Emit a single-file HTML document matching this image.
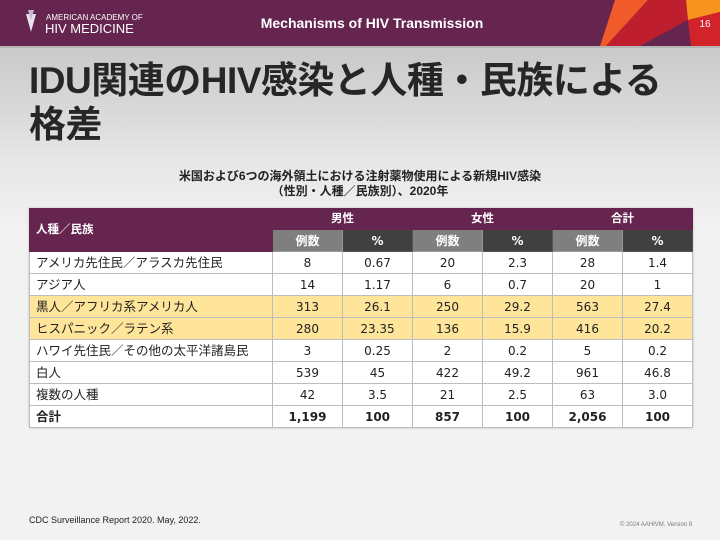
<!DOCTYPE html>
<html><head><meta charset="utf-8"><style>
*{margin:0;padding:0;box-sizing:border-box}
body{width:720px;height:540px;overflow:hidden;position:relative;font-family:"Liberation Sans","Noto Sans CJK JP",sans-serif;background:linear-gradient(#c9c9c9 48px,#e6e6e6 160px,#f2f2f2 230px,#f2f2f2)}
.hdr{position:absolute;left:0;top:0;width:720px;height:46px;background:#65254f}
.line{position:absolute;left:0;top:46px;width:720px;height:2px;background:#b5b5b5}
.t{position:absolute;left:29px;top:59px;font-size:37px;font-weight:bold;color:#262626;line-height:44px;letter-spacing:-0.5px}
.sub{position:absolute;left:0;width:720px;text-align:center;top:169px;font-size:12px;font-weight:bold;color:#222;line-height:15px}
table{position:absolute;left:29px;top:208px;border-collapse:collapse;table-layout:fixed;width:663px;font-size:12.5px;color:#222;box-shadow:0 0 2px #bbb}
td{border:1px solid #bdbdbd;height:22px;text-align:center;padding:0;line-height:18px;font-family:"DejaVu Sans","Noto Sans CJK JP",sans-serif;font-size:12px}
td.l{text-align:left;padding-left:6px;font-family:"Liberation Sans","Noto Sans CJK JP",sans-serif;font-size:12.5px}
.h td{background:#65254f;color:#fff;font-weight:bold;border-color:#65254f;height:21px;font-size:11.5px;font-family:"Liberation Sans","Noto Sans CJK JP",sans-serif}
.h2 td.g{background:#7f7f7f;color:#fff;font-weight:bold;height:22px;border-color:#999}
.h2 td.d{background:#404040;color:#fff;font-weight:bold;border-color:#555}
tr.y td{background:#ffe599}
tr.w td{background:#fff}
tr.b td{font-weight:bold}
</style></head><body>
<div class="hdr"></div>
<svg style="position:absolute;left:0;top:0" width="720" height="46">
<polygon points="615,0 648,0 606,46 600,46" fill="#f15a29"/>
<polygon points="648,0 686,0 688,20 640,46 606,46" fill="#be1e2d"/>
<polygon points="640,46 688,20 691,46" fill="#65254f"/>
<polygon points="686,0 720,0 720,12 688,20" fill="#f7941d"/>
<polygon points="688,20 720,12 720,46 691,46" fill="#d2232a"/>
<polygon points="26,14 36,14 31,32" fill="#e8e0ea"/>
<polygon points="28,10 34,10 31,20" fill="#c9b8cc"/>
<text x="46" y="20" font-family="Liberation Sans" font-size="8" fill="#fff">AMERICAN ACADEMY OF</text>
<text x="45" y="33" font-family="Liberation Sans" font-size="13" fill="#fff">HIV MEDICINE</text>
<text x="372" y="28" text-anchor="middle" font-family="Liberation Sans" font-size="14" font-weight="bold" fill="#fff">Mechanisms of HIV Transmission</text>
<text x="705" y="27" text-anchor="middle" font-family="Liberation Sans" font-size="10" fill="#fff">16</text>
</svg>
<div class="line"></div>
<div class="t">IDU関連のHIV感染と人種・民族による<br>格差</div>
<div class="sub">米国および6つの海外領土における注射薬物使用による新規HIV感染<br>（性別・人種／民族別）、2020年</div>
<table>
<colgroup><col style="width:243px"><col style="width:70px"><col style="width:70px"><col style="width:70px"><col style="width:70px"><col style="width:70px"><col style="width:70px"></colgroup>
<tr class="h"><td class="l" rowspan="2">人種／民族</td><td colspan="2">男性</td><td colspan="2">女性</td><td colspan="2">合計</td></tr>
<tr class="h2"><td class="g">例数</td><td class="d">%</td><td class="g">例数</td><td class="d">%</td><td class="g">例数</td><td class="d">%</td></tr>
<tr class="w"><td class="l">アメリカ先住民／アラスカ先住民</td><td>8</td><td>0.67</td><td>20</td><td>2.3</td><td>28</td><td>1.4</td></tr>
<tr class="w"><td class="l">アジア人</td><td>14</td><td>1.17</td><td>6</td><td>0.7</td><td>20</td><td>1</td></tr>
<tr class="y"><td class="l">黒人／アフリカ系アメリカ人</td><td>313</td><td>26.1</td><td>250</td><td>29.2</td><td>563</td><td>27.4</td></tr>
<tr class="y"><td class="l">ヒスパニック／ラテン系</td><td>280</td><td>23.35</td><td>136</td><td>15.9</td><td>416</td><td>20.2</td></tr>
<tr class="w"><td class="l">ハワイ先住民／その他の太平洋諸島民</td><td>3</td><td>0.25</td><td>2</td><td>0.2</td><td>5</td><td>0.2</td></tr>
<tr class="w"><td class="l">白人</td><td>539</td><td>45</td><td>422</td><td>49.2</td><td>961</td><td>46.8</td></tr>
<tr class="w"><td class="l">複数の人種</td><td>42</td><td>3.5</td><td>21</td><td>2.5</td><td>63</td><td>3.0</td></tr>
<tr class="w b"><td class="l">合計</td><td>1,199</td><td>100</td><td>857</td><td>100</td><td>2,056</td><td>100</td></tr>
</table>
<div style="position:absolute;left:29px;top:515px;font-size:9px;color:#222">CDC Surveillance Report 2020. May, 2022.</div>
<div style="position:absolute;left:620px;top:522px;font-size:6px;color:#777">© 2024 AAHIVM. Version 8</div>
</body></html>
